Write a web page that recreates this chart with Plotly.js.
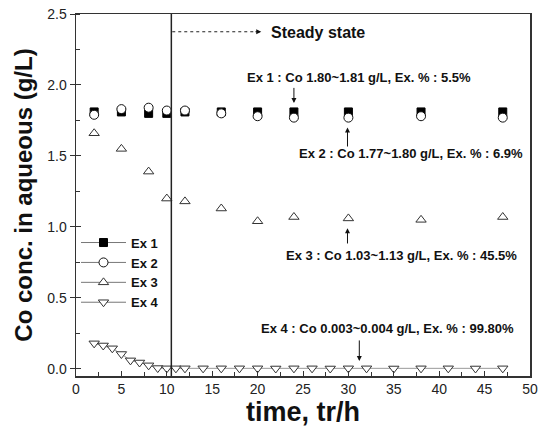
<!DOCTYPE html>
<html>
<head>
<meta charset="utf-8">
<script src="https://cdn.plot.ly/plotly-3.0.1.min.js"></script>
<style>
html,body{margin:0;padding:0;background:#fff;}
#chart{width:543px;height:434px;}
</style>
</head>
<body>
<div id="chart"></div>
<script>
// ---- data ----
var timeEx123 = [2, 5, 8, 10, 12, 16, 20, 24, 30, 38, 47];
var ex1 = [1.81, 1.81, 1.80, 1.80, 1.81, 1.81, 1.81, 1.81, 1.81, 1.81, 1.81];
var ex2 = [1.79, 1.83, 1.84, 1.82, 1.82, 1.80, 1.78, 1.77, 1.77, 1.78, 1.77];
var ex3 = [1.66, 1.55, 1.39, 1.20, 1.18, 1.13, 1.04, 1.07, 1.06, 1.05, 1.07];
var timeEx4 = [2, 3, 4, 5, 6, 7, 8, 9, 10, 11, 12, 14, 16, 18, 20, 22, 24, 26, 28, 30, 32, 35, 38, 41, 44, 47];
var ex4 = [0.18, 0.165, 0.145, 0.105, 0.06, 0.045, 0.025, 0.006, 0.004, 0.004, 0.004, 0.004, 0.004, 0.004, 0.004, 0.003, 0.004, 0.004, 0.003, 0.004, 0.004, 0.003, 0.004, 0.004, 0.003, 0.004];
var seriesNames = ["Ex 1", "Ex 2", "Ex 3", "Ex 4"];
var steadyStart = 10.5;
var noteTexts = [
  "Ex 1 : Co 1.80~1.81 g/L, Ex. % : 5.5%",
  "Ex 2 : Co 1.77~1.80 g/L, Ex. % : 6.9%",
  "Ex 3 : Co 1.03~1.13 g/L, Ex. % : 45.5%",
  "Ex 4 : Co 0.003~0.004 g/L, Ex. % : 99.80%"
];

var FONT = "Arial, 'Liberation Sans', sans-serif";
var legLine = {color: "#777", width: 1};

var traces = [
  {x: timeEx123, y: ex1, mode: "markers", showlegend: false,
   marker: {symbol: "square", size: 8, color: "#000", line: {color: "#000", width: 1}}},
  {x: timeEx123, y: ex2, mode: "markers", showlegend: false,
   marker: {symbol: "circle", size: 9, color: "#fff", line: {color: "#111", width: 1}}},
  {x: timeEx123, y: ex3, mode: "markers", showlegend: false,
   marker: {symbol: "triangle-up", size: 9, color: "rgba(0,0,0,0)", line: {color: "#333", width: 1}}},
  {x: timeEx4, y: ex4, mode: "lines+markers", showlegend: false,
   line: {color: "#999", width: 1},
   marker: {symbol: "triangle-down", size: 9, color: "#fff", line: {color: "#333", width: 1}}},
  {x: [null], y: [null], name: seriesNames[0], mode: "lines+markers", line: legLine,
   marker: {symbol: "square", size: 8, color: "#000", line: {color: "#000", width: 1}}},
  {x: [null], y: [null], name: seriesNames[1], mode: "lines+markers", line: legLine,
   marker: {symbol: "circle", size: 9, color: "#fff", line: {color: "#111", width: 1}}},
  {x: [null], y: [null], name: seriesNames[2], mode: "lines+markers", line: legLine,
   marker: {symbol: "triangle-up", size: 9, color: "#fff", line: {color: "#333", width: 1}}},
  {x: [null], y: [null], name: seriesNames[3], mode: "lines+markers", line: legLine,
   marker: {symbol: "triangle-down", size: 9, color: "#fff", line: {color: "#333", width: 1}}}
];

function arrow(hx, hy, tx, ty) {
  return {x: hx, y: hy, ax: tx, ay: ty, xref: "x", yref: "y", axref: "x", ayref: "y",
          text: "", showarrow: true, arrowhead: 2, arrowsize: 1, arrowwidth: 1, arrowcolor: "#111"};
}
function note(txt, x, y) {
  return {x: x, y: y, xref: "x", yref: "y", text: txt, showarrow: false,
          font: {family: FONT, size: 13, color: "#111", weight: "bold"}};
}

var layout = {
  width: 543, height: 434,
  margin: {l: 75.5, r: 12.5, t: 14, b: 58, pad: 0},
  paper_bgcolor: "#fff", plot_bgcolor: "#fff",
  font: {family: FONT, color: "#222"},
  showlegend: true,
  legend: {x: 0.0, y: 0.41, xanchor: "left", yanchor: "top", bgcolor: "rgba(0,0,0,0)",
           itemwidth: 45,
           font: {family: FONT, size: 13, color: "#111", weight: "bold"}, tracegroupgap: 0},
  xaxis: {range: [0, 50], dtick: 5, tick0: 0, showgrid: false, zeroline: false,
          showline: true, linecolor: "#333", linewidth: 1.5, mirror: true,
          ticks: "inside", ticklen: 5, tickcolor: "#333", tickwidth: 1,
          minor: {dtick: 2.5, ticks: "inside", ticklen: 4, tickcolor: "#333", showgrid: false},
          tickfont: {family: FONT, size: 14, color: "#222"},
          title: {text: "time, tr/h", font: {family: FONT, size: 27, color: "#111", weight: "bold"}, standoff: 6}},
  yaxis: {range: [-0.05, 2.5], dtick: 0.5, tick0: 0, tickformat: ".1f", showgrid: false, zeroline: false,
          showline: true, linecolor: "#333", linewidth: 1.5, mirror: true,
          ticks: "outside", ticklen: 5, tickcolor: "#333", tickwidth: 1,
          minor: {dtick: 0.25, ticks: "inside", ticklen: 4, tickcolor: "#333", showgrid: false},
          tickfont: {family: FONT, size: 14, color: "#222"},
          title: {text: "Co conc. in aqueous (g/L)", font: {family: FONT, size: 24, color: "#111", weight: "bold"}, standoff: 8}},
  yaxis2: {range: [-0.05, 2.5], dtick: 0.5, tick0: 0, overlaying: "y", side: "left",
           showgrid: false, zeroline: false, showline: false, showticklabels: false,
           ticks: "inside", ticklen: 5, tickcolor: "#333", tickwidth: 1},
  shapes: [
    {type: "line", xref: "x", yref: "paper", x0: steadyStart, x1: steadyStart, y0: 0, y1: 1,
     line: {color: "#222", width: 1.5}},
    {type: "line", xref: "x", yref: "y", x0: steadyStart + 0.1, x1: 19.6, y0: 2.375, y1: 2.375,
     line: {color: "#222", width: 1, dash: "3px,3px"}}
  ],
  annotations: [
    arrow(20.4, 2.375, 19.6, 2.375),
    {x: 26.6, y: 2.37, xref: "x", yref: "y", text: "Steady state", showarrow: false,
     font: {family: FONT, size: 16, color: "#111", weight: "bold"}},
    note(noteTexts[0], 31.2, 2.054),
    arrow(24, 1.873, 24, 1.99),
    note(noteTexts[1], 36.9, 1.514),
    arrow(29.9, 1.70, 29.9, 1.556),
    note(noteTexts[2], 35.8, 0.796),
    arrow(29.9, 0.99, 29.9, 0.873),
    note(noteTexts[3], 34.3, 0.282),
    arrow(31.2, 0.056, 31.2, 0.211)
  ]
};

traces.push({x: [0], y: [0], yaxis: "y2", mode: "markers", marker: {opacity: 0}, showlegend: false, hoverinfo: "skip"});

Plotly.newPlot("chart", traces, layout, {staticPlot: true, displayModeBar: false});
</script>
</body>
</html>
